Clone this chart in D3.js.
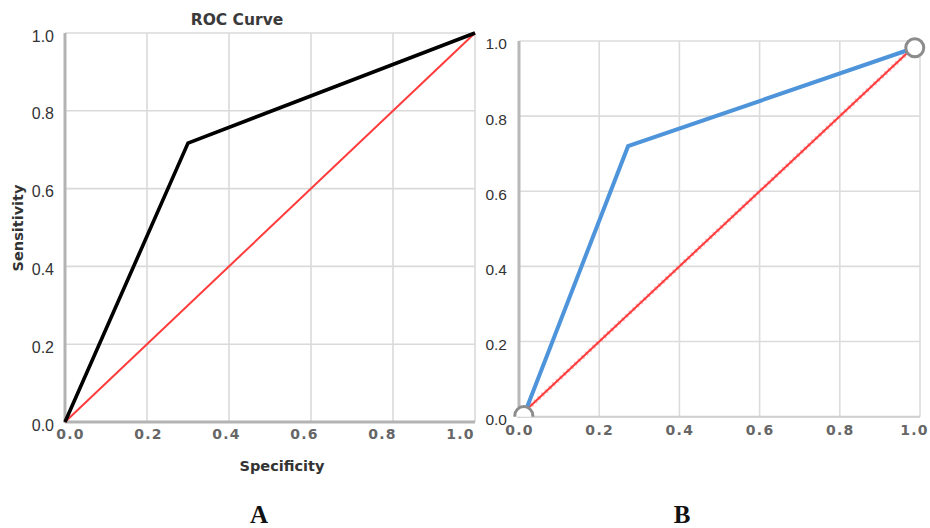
<!DOCTYPE html>
<html>
<head>
<meta charset="utf-8">
<script src="https://cdn.jsdelivr.net/npm/d3@7"></script>
<style>
  body { margin: 0; background: #fff; }
  svg { display: block; }
</style>
</head>
<body>
<div id="chart"></div>
<script>
// ticks shared by both panels
const ticks = [0, 0.2, 0.4, 0.6, 0.8, 1.0];

// panel A: ROC curve (black) and reference diagonal (red)
const rocA = [[0, 0], [0.30, 0.717], [1, 1]];
const diagA = [[0, 0], [1, 1]];

// panel B: ROC curve (blue) and reference diagonal (red)
const rocB = [[0.012, 0.003], [0.272, 0.72], [0.987, 0.982]];
const diagB = [[0.012, 0.012], [0.98, 0.98]];

const width = 930, height = 528;

const svg = d3.select("#chart")
    .append("svg")
    .attr("width", width)
    .attr("height", height);

function drawGrid(g, x, y, gridColor) {
    g.selectAll(".vgrid")
        .data(ticks)
        .enter().append("line")
        .attr("x1", d => x(d)).attr("x2", d => x(d))
        .attr("y1", y(0)).attr("y2", y(1))
        .attr("stroke", gridColor)
        .attr("stroke-width", 1.6);

    g.selectAll(".hgrid")
        .data(ticks)
        .enter().append("line")
        .attr("x1", x(0)).attr("x2", x(1))
        .attr("y1", d => y(d)).attr("y2", d => y(d))
        .attr("stroke", gridColor)
        .attr("stroke-width", 1.6);
}

const line = (x, y) => d3.line().x(d => x(d[0])).y(d => y(d[1]));

function styleYLabels(sel, size) {
    sel.selectAll("text")
        .attr("font-family", "Liberation Sans, Arial, sans-serif")
        .attr("font-size", size)
        .attr("fill", "#333");
}

function styleXLabels(sel) {
    sel.selectAll("text")
        .attr("font-family", "DejaVu Sans, Verdana, sans-serif")
        .attr("font-size", 14)
        .attr("font-weight", "bold")
        .attr("letter-spacing", 1.3)
        .attr("fill", "#666");
}

// ---------- panel A ----------
const xA = d3.scaleLinear().domain([0, 1]).range([65, 475]);
const yA = d3.scaleLinear().domain([0, 1]).range([422, 33]);
// the x labels of panel A sit a little inside the grid
const xALabel = d3.scaleLinear().domain([0, 1]).range([70, 460]);
const gA = svg.append("g");

drawGrid(gA, xA, yA, "#dadada");

// axis lines
gA.append("line")
    .attr("x1", xA(0)).attr("x2", xA(0)).attr("y1", yA(0) + 1).attr("y2", yA(1))
    .attr("stroke", "#b3b3b3").attr("stroke-width", 3);
gA.append("line")
    .attr("x1", xA(0)).attr("x2", xA(1)).attr("y1", yA(0)).attr("y2", yA(0))
    .attr("stroke", "#b3b3b3").attr("stroke-width", 3);

gA.append("path")
    .datum(diagA)
    .attr("fill", "none")
    .attr("stroke", "#ff3b3b")
    .attr("stroke-width", 2)
    .attr("d", line(xA, yA));

gA.append("path")
    .datum(rocA)
    .attr("fill", "none")
    .attr("stroke", "#000")
    .attr("stroke-width", 3.6)
    .attr("stroke-linejoin", "miter")
    .attr("d", line(xA, yA));

// tick labels
gA.append("g")
    .attr("transform", `translate(${xA(0) - 8},3)`)
    .call(d3.axisLeft(yA).tickValues(ticks).tickFormat(d3.format(".1f")).tickSize(0))
    .call(g => g.select(".domain").remove())
    .call(g => styleYLabels(g, 16));

gA.append("g")
    .attr("transform", `translate(0,${yA(0) + 4})`)
    .call(d3.axisBottom(xALabel).tickValues(ticks).tickFormat(d3.format(".1f")).tickSize(0))
    .call(g => g.select(".domain").remove())
    .call(styleXLabels);

gA.append("text")
    .attr("x", 237).attr("y", 25)
    .attr("text-anchor", "middle")
    .attr("font-family", "DejaVu Sans, Verdana, sans-serif")
    .attr("font-weight", "bold")
    .attr("font-size", 15.5)
    .attr("fill", "#3a3a3a")
    .text("ROC Curve");

gA.append("text")
    .attr("x", 282).attr("y", 471)
    .attr("text-anchor", "middle")
    .attr("font-family", "DejaVu Sans, Verdana, sans-serif")
    .attr("font-weight", "bold")
    .attr("font-size", 14.5)
    .attr("fill", "#333")
    .text("Specificity");

gA.append("text")
    .attr("transform", "translate(23,228) rotate(-90)")
    .attr("text-anchor", "middle")
    .attr("font-family", "DejaVu Sans, Verdana, sans-serif")
    .attr("font-weight", "bold")
    .attr("font-size", 14.5)
    .attr("fill", "#333")
    .text("Sensitivity");

// ---------- panel B ----------
const xB = d3.scaleLinear().domain([0, 1]).range([519, 920]);
const yB = d3.scaleLinear().domain([0, 1]).range([416.7, 41]);
const gB = svg.append("g");

drawGrid(gB, xB, yB, "#dcdcdc");

gB.append("line")
    .attr("x1", xB(0)).attr("x2", xB(0)).attr("y1", yB(0) + 1).attr("y2", yB(1))
    .attr("stroke", "#b8b8b8").attr("stroke-width", 3);
gB.append("line")
    .attr("x1", xB(0)).attr("x2", xB(1)).attr("y1", yB(0)).attr("y2", yB(0))
    .attr("stroke", "#d0d0d0").attr("stroke-width", 2);

gB.append("path")
    .datum(diagB)
    .attr("fill", "none")
    .attr("stroke", "#f7a8b0")
    .attr("stroke-width", 4.5)
    .attr("stroke-dasharray", "2,3")
    .attr("opacity", 0.7)
    .attr("d", line(xB, yB));

gB.append("path")
    .datum(diagB)
    .attr("fill", "none")
    .attr("stroke", "#ff3b3b")
    .attr("stroke-width", 2)
    .attr("d", line(xB, yB));

gB.append("path")
    .datum(rocB)
    .attr("fill", "none")
    .attr("stroke", "#4d94db")
    .attr("stroke-width", 4)
    .attr("d", line(xB, yB));

svg.append("clipPath").attr("id", "clipB")
    .append("rect")
    .attr("x", xB(0) - 20).attr("y", yB(1) - 20)
    .attr("width", xB(1) - xB(0) + 40)
    .attr("height", yB(0) - yB(1) + 20);

gB.append("g")
    .attr("clip-path", "url(#clipB)")
    .selectAll("circle")
    .data([rocB[0], rocB[rocB.length - 1]])
    .enter().append("circle")
    .attr("cx", d => xB(d[0]))
    .attr("cy", d => yB(d[1]))
    .attr("r", 9)
    .attr("fill", "#fff")
    .attr("stroke", "#8c8c8c")
    .attr("stroke-width", 3);

gB.append("g")
    .attr("transform", `translate(${xB(0) - 9},3)`)
    .call(d3.axisLeft(yB).tickValues(ticks).tickFormat(d3.format(".1f")).tickSize(0))
    .call(g => g.select(".domain").remove())
    .call(g => styleYLabels(g, 15.5));

gB.append("g")
    .attr("transform", `translate(0,${yB(0) + 5})`)
    .call(d3.axisBottom(xB).tickValues(ticks).tickFormat(d3.format(".1f")).tickSize(0))
    .call(g => g.select(".domain").remove())
    .call(styleXLabels)
    .call(g => g.selectAll(".tick:last-of-type text").attr("dx", -6));

// panel letters
svg.selectAll(".panel")
    .data([["A", 259], ["B", 682]])
    .enter().append("text")
    .attr("x", d => d[1]).attr("y", 523)
    .attr("text-anchor", "middle")
    .attr("font-family", "Liberation Serif, Times New Roman, serif")
    .attr("font-weight", "bold")
    .attr("font-size", 25)
    .attr("fill", "#111")
    .text(d => d[0]);
</script>
</body>
</html>
